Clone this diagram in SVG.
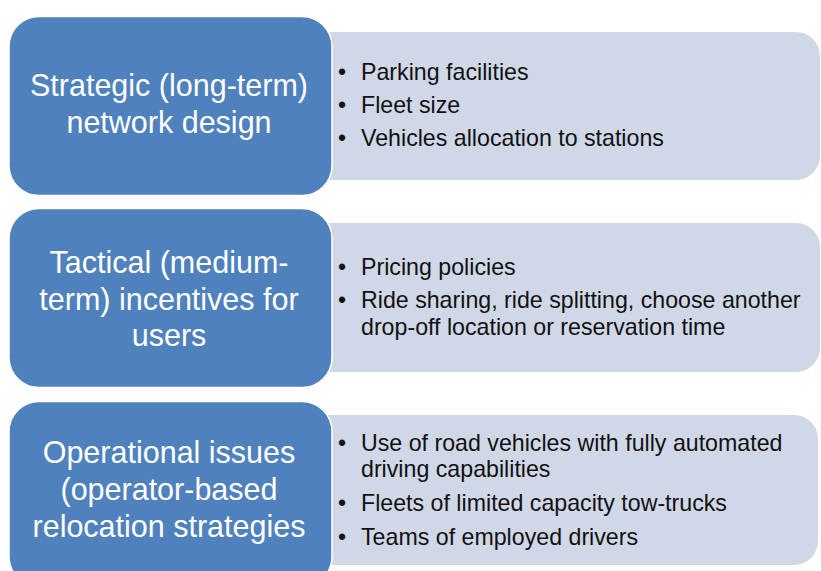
<svg xmlns="http://www.w3.org/2000/svg" width="821" height="571" viewBox="0 0 821 571">
<style>
.bg{fill:#ffffff}
.main{fill:#4F81BD;stroke:#ffffff;stroke-width:1.5}
.sub{fill:#D0D8E8}
.ht{font-family:"Liberation Sans",Arial,sans-serif;font-size:30.5px;fill:#ffffff;text-anchor:middle}
.bt{font-family:"Liberation Sans",Arial,sans-serif;font-size:23.2px;fill:#111111}
.bu{font-family:"Liberation Sans",Arial,sans-serif;font-size:23px;fill:#111111}
</style>
<rect class="bg" x="0" y="0" width="821" height="571"/>
<g id="row1">
  <rect class="sub" x="300" y="32" width="520" height="148" rx="24"/>
  <rect class="main" x="9" y="16.5" width="323" height="179" rx="30"/>
  <text class="ht"><tspan x="169" y="96">Strategic (long-term)</tspan><tspan x="169" y="133">network design</tspan></text>
  <text class="bu"><tspan x="338" y="80">•</tspan><tspan x="338" y="113">•</tspan><tspan x="338" y="146">•</tspan></text>
  <text class="bt"><tspan x="361" y="80">Parking facilities</tspan><tspan x="361" y="113">Fleet size</tspan><tspan x="361" y="146">Vehicles allocation to stations</tspan></text>
</g>
<g id="row2">
  <rect class="sub" x="300" y="223" width="520" height="149" rx="24"/>
  <rect class="main" x="9" y="208.5" width="323" height="179" rx="30"/>
  <text class="ht"><tspan x="169" y="273">Tactical (medium-</tspan><tspan x="169" y="310">term) incentives for</tspan><tspan x="169" y="346">users</tspan></text>
  <text class="bu"><tspan x="338" y="275">•</tspan><tspan x="338" y="308">•</tspan></text>
  <text class="bt"><tspan x="361" y="275">Pricing policies</tspan><tspan x="361" y="308">Ride sharing, ride splitting, choose another</tspan><tspan x="361" y="335">drop-off location or reservation time</tspan></text>
</g>
<g id="row3">
  <rect class="sub" x="300" y="415" width="518" height="150" rx="24"/>
  <rect class="main" x="9" y="401.5" width="323" height="185" rx="30"/>
  <text class="ht"><tspan x="169" y="463">Operational issues</tspan><tspan x="169" y="500">(operator-based</tspan><tspan x="169" y="537">relocation strategies</tspan></text>
  <text class="bu"><tspan x="338" y="451">•</tspan><tspan x="338" y="511">•</tspan><tspan x="338" y="545">•</tspan></text>
  <text class="bt"><tspan x="361" y="451">Use of road vehicles with fully automated</tspan><tspan x="361" y="477">driving capabilities</tspan><tspan x="361" y="511">Fleets of limited capacity tow-trucks</tspan><tspan x="361" y="545">Teams of employed drivers</tspan></text>
</g>
<g id="connectors"/>
</svg>
